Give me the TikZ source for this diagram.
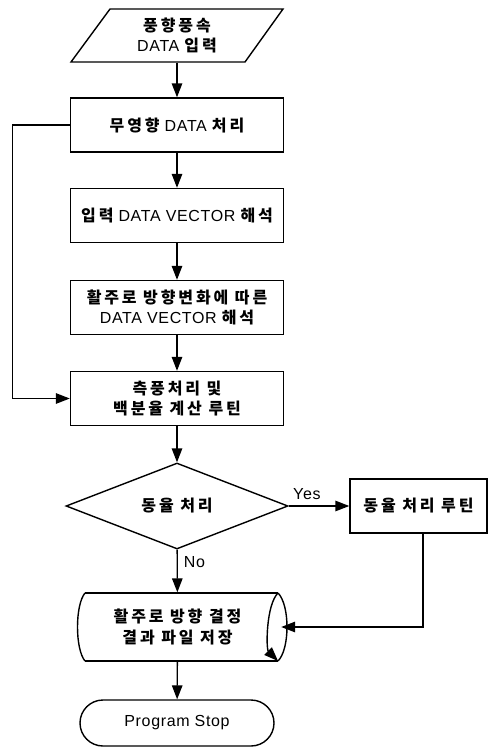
\documentclass[tikz,border=0pt]{standalone}
\usepackage{fontspec}
\setmainfont{Liberation Sans}[LetterSpace=4]
\newfontfamily\kr{Noto Sans CJK KR}[LetterSpace=18]
\newcommand{\K}[1]{{\kr\bfseries #1}}
\usetikzlibrary{arrows.meta,shapes.geometric,shapes.misc}
\begin{document}
\begin{tikzpicture}[x=1pt,y=-1pt, line width=1.4pt,
  every node/.style={font=\fontsize{16}{20.5}\selectfont, align=center, inner sep=0pt},
  procbox/.style={draw, rectangle, minimum width=213pt, minimum height=54pt},
  ghost/.style={rectangle, draw=none},
  arr/.style={-{Triangle[length=14pt,width=10.5pt]}},
  lbl/.style={font=\fontsize{16}{18}\selectfont}]
\useasboundingbox (0,0) rectangle (494,747);

% input (parallelogram)
\node[ghost, minimum width=212pt, minimum height=53pt] (in) at (177,35.5) {\K{풍향풍속}\\DATA \K{입력}};
\draw (110,9) -- (283,9) -- (245,62) -- (71,62) -- cycle;

\node[procbox] (b1) at (177,125) {\K{무영향} DATA \K{처리}};
\node[procbox] (b2) at (177,215.5) {\K{입력} DATA VECTOR \K{해석}};
\node[procbox] (b3) at (177,307.5) {\K{활주로 방향변화에 따른}\\DATA VECTOR \K{해석}};
\node[procbox] (b4) at (177,398.5) {\K{측풍처리 및}\\\K{백분율 계산 루틴}};

\node[draw, diamond, aspect=2.58, minimum width=222pt, minimum height=86pt] (dec) at (177,506) {\K{동율 처리}};
\node[draw, rectangle, minimum width=137pt, minimum height=54pt] (rb) at (418.5,506) {\K{동율 처리 루틴}};

% stored data shape
\node[ghost, minimum width=201pt, minimum height=68pt] (st) at (177.5,627) {\K{활주로 방향 결정}\\\K{결과 파일 저장}};
\draw (85,593) -- (278,593);
\draw (85,661) -- (278,661);
\draw (85,593) .. controls (75,605) and (75,649) .. (85,661);
\draw (278,593) .. controls (290,605) and (290,649) .. (278,661);
\draw[arr] (278,593) .. controls (266,605) and (266,649) .. (278,661);

\node[draw, rounded rectangle, minimum width=194pt, minimum height=46pt] (stop) at (177,723) {Program Stop};

% connectors
\draw[arr] (in) -- (b1);
\draw[arr] (b1) -- (b2);
\draw[arr] (b2) -- (b3);
\draw[arr] (b3) -- (b4);
\draw[arr] (b4) -- (dec);
\draw[arr] (dec) -- node[lbl, pos=0.3, right=6pt]{No} (st);
\draw[arr] (st) -- (stop);
\draw[arr] (dec) -- node[lbl, pos=0.3, above=6pt]{Yes} (rb);
\draw[arr] (b1.west) -- ++(-57.5,0) |- (b4.west);
\draw[arr] ([xshift=4.5pt]rb.south) |- ([xshift=2.5pt]st.east);
\end{tikzpicture}
\end{document}
